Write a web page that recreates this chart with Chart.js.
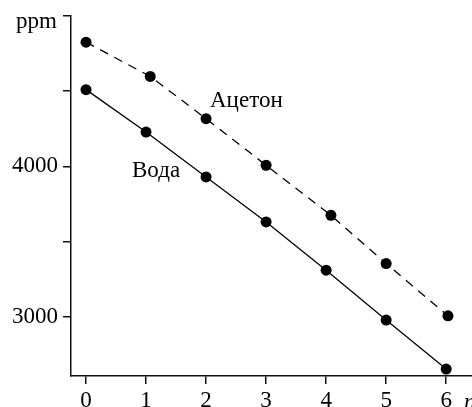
<!DOCTYPE html>
<html>
<head>
<meta charset="utf-8">
<script src="https://cdn.jsdelivr.net/npm/chart.js@4/dist/chart.umd.min.js"></script>
<style>
  html, body { margin: 0; padding: 0; background: #fff; }
  #wrap { width: 472px; height: 407px; position: relative; }
</style>
</head>
<body>
<div id="wrap"><canvas id="c" width="472" height="407"></canvas></div>
<script>
// ---- data ----
const xTickValues = [0, 1, 2, 3, 4, 5, 6];
const yTickValues = [3000, 3500, 4000, 4500, 5000];
const yTickLabels = { 3000: '3000', 4000: '4000' };
const acetoneN   = [0, 1.07, 2.0, 3.0, 4.08, 5.0, 6.03];
const acetonePpm = [4826, 4598, 4317, 4007, 3674, 3353, 3005];
const waterN     = [0, 1, 2, 3, 4, 5, 6];
const waterPpm   = [4510, 4228, 3929, 3630, 3309, 2977, 2651];
const seriesNames = ['Ацетон', 'Вода'];
const yUnit = 'ppm';
const xUnit = 'n';

const FONT = "'Liberation Serif', 'Times New Roman', serif";
const FS = 23;
const toPts = (xs, ys) => xs.map((x, i) => ({ x: x, y: ys[i] }));

const annotations = {
  id: 'annotations',
  afterDraw(chart) {
    const ctx = chart.ctx;
    ctx.save();
    ctx.fillStyle = '#000';
    ctx.textBaseline = 'alphabetic';
    ctx.font = FS + 'px ' + FONT;
    ctx.textAlign = 'left';
    ctx.fillText(seriesNames[0], 210, 107);
    ctx.fillText(seriesNames[1], 132, 177);
    ctx.textAlign = 'right';
    ctx.fillText(yUnit, 57, 28);
    ctx.textAlign = 'left';
    ctx.font = 'italic ' + FS + 'px ' + FONT;
    ctx.fillText(xUnit, 464, 409);
    ctx.restore();
  }
};

new Chart(document.getElementById('c'), {
  type: 'scatter',
  data: {
    datasets: [
      {
        label: seriesNames[0],
        data: toPts(acetoneN, acetonePpm),
        showLine: true,
        borderColor: '#000',
        borderWidth: 1.3,
        borderDash: [9, 7],
        pointRadius: 5.5,
        pointBackgroundColor: '#000',
        pointBorderColor: '#000',
        pointBorderWidth: 0
      },
      {
        label: seriesNames[1],
        data: toPts(waterN, waterPpm),
        showLine: true,
        borderColor: '#000',
        borderWidth: 1.3,
        pointRadius: 5.5,
        pointBackgroundColor: '#000',
        pointBorderColor: '#000',
        pointBorderWidth: 0
      }
    ]
  },
  options: {
    responsive: false,
    animation: false,
    devicePixelRatio: 1,
    layout: { autoPadding: false, padding: { top: 16, right: 0, left: 0, bottom: 0 } },
    plugins: { legend: { display: false }, tooltip: { enabled: false } },
    scales: {
      x: {
        type: 'linear',
        min: -0.25,
        max: 6.43,
        afterFit(s) { s.height = 31; s.paddingLeft = 0; s.paddingRight = 0; },
        afterBuildTicks(s) { s.ticks = xTickValues.map(v => ({ value: v })); },
        border: { display: true, color: '#111', width: 1.5 },
        grid: { drawOnChartArea: false, drawTicks: true, tickLength: 8, color: '#111', lineWidth: 1.5 },
        ticks: {
          padding: 3,
          color: '#000',
          font: { family: FONT, size: FS },
          callback: v => String(v)
        }
      },
      y: {
        type: 'linear',
        min: 2605,
        max: 5000,
        afterFit(s) { s.width = 71; s.paddingTop = 0; s.paddingBottom = 0; },
        afterBuildTicks(s) { s.ticks = yTickValues.map(v => ({ value: v })); },
        border: { display: true, color: '#111', width: 1.5 },
        grid: { drawOnChartArea: false, drawTicks: true, tickLength: 8, color: '#111', lineWidth: 1.5 },
        ticks: {
          padding: 5,
          color: '#000',
          font: { family: FONT, size: FS },
          callback: v => (yTickLabels[v] || '')
        }
      }
    }
  },
  plugins: [annotations]
});
</script>
</body>
</html>
